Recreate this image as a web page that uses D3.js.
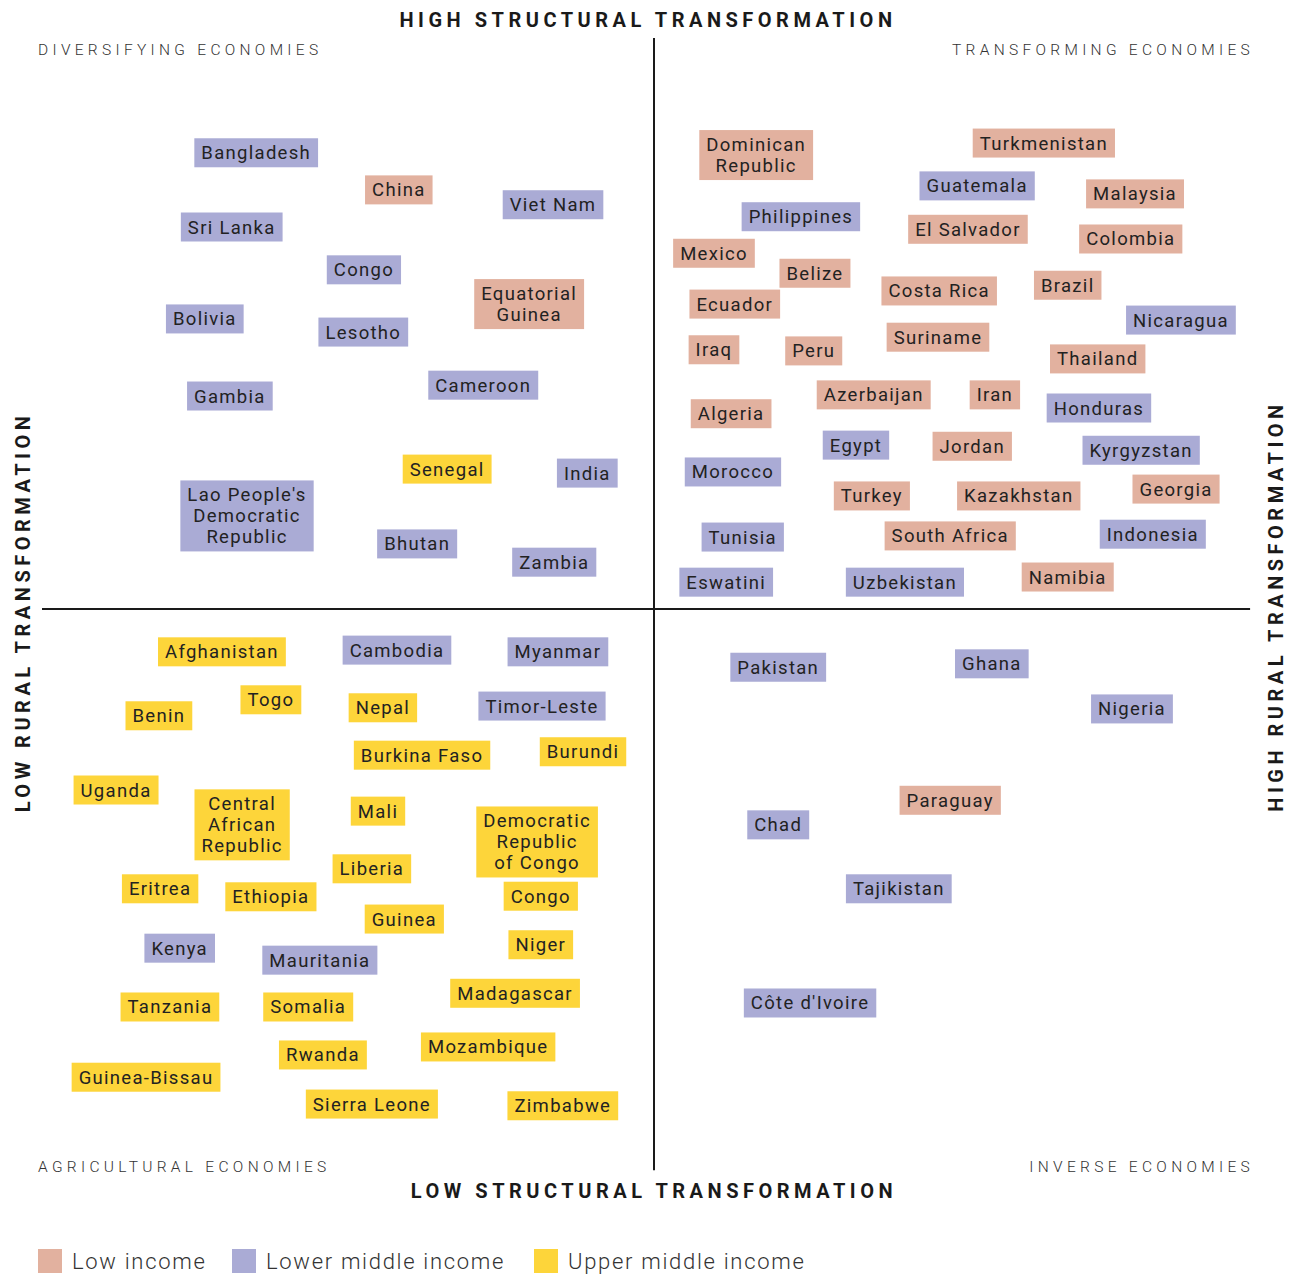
<!DOCTYPE html>
<html>
<head>
<meta charset="utf-8">
<script src="https://cdn.jsdelivr.net/npm/d3@7"></script>
<style>
  html, body { margin: 0; padding: 0; background: #fff; }
  svg { display: block; font-family: "Roboto", "Inter", sans-serif; }
</style>
</head>
<body>
<svg id="chart" width="1293" height="1275"></svg>
<script>
// ---- DATA ----
const countries = [
  "Bangladesh","China","Viet Nam","Sri Lanka","Congo","Equatorial\nGuinea","Bolivia","Lesotho","Cameroon","Gambia",
  "Senegal","India","Lao People's\nDemocratic\nRepublic","Bhutan","Zambia",
  "Dominican\nRepublic","Turkmenistan","Guatemala","Malaysia","Philippines","El Salvador","Colombia","Mexico","Belize","Ecuador",
  "Costa Rica","Brazil","Nicaragua","Iraq","Peru","Suriname","Thailand","Azerbaijan","Iran","Algeria",
  "Honduras","Egypt","Jordan","Kyrgyzstan","Morocco","Turkey","Kazakhstan","Georgia","Tunisia","South Africa",
  "Indonesia","Eswatini","Uzbekistan","Namibia",
  "Afghanistan","Cambodia","Myanmar","Togo","Benin","Nepal","Timor-Leste","Burkina Faso","Burundi","Uganda",
  "Central\nAfrican\nRepublic","Mali","Democratic\nRepublic\nof Congo","Liberia","Eritrea","Ethiopia","Congo","Guinea","Kenya","Niger",
  "Mauritania","Madagascar","Tanzania","Somalia","Mozambique","Rwanda","Guinea-Bissau","Sierra Leone","Zimbabwe",
  "Pakistan","Ghana","Nigeria","Paraguay","Chad","Tajikistan","Côte d'Ivoire"
];
// structural transformation (x, -100..100) and rural transformation (y, -100..100) positions
const structural = [
  -65.0,-41.7,-16.5,-69.0,-47.4,-20.4,-73.4,-47.5,-27.9,-69.3,
  -33.8,-10.9,-66.5,-38.7,-16.3,
  16.7,63.7,52.8,78.6,24.0,51.3,77.9,9.8,26.3,13.2,
  46.6,67.6,86.1,9.8,26.1,46.4,72.5,35.9,55.7,12.6,
  72.7,33.0,52.0,79.6,12.9,35.6,59.6,85.3,14.5,48.4,
  81.5,11.8,41.0,67.6,
  -70.6,-42.0,-15.7,-62.6,-80.9,-44.3,-18.3,-37.9,-11.6,-87.9,
  -67.3,-45.1,-19.1,-46.1,-80.7,-62.6,-18.5,-40.8,-77.5,-18.5,
  -54.6,-22.7,-79.1,-56.5,-27.1,-54.1,-83.0,-46.1,-14.9,
  20.3,55.2,78.1,48.4,20.3,40.0,25.5
];
const rural = [
  79.9,73.4,70.8,66.9,59.4,53.4,50.8,48.5,39.2,37.3,
  24.5,23.8,16.3,11.4,8.2,
  79.5,81.6,74.1,72.7,68.7,66.5,64.8,62.3,58.8,53.4,
  55.7,56.7,50.6,45.4,45.2,47.6,43.8,37.5,37.5,34.2,
  35.2,28.7,28.5,27.8,24.0,19.8,19.8,21.0,12.6,12.8,
  13.1,4.7,4.7,5.6,
  -7.5,-7.2,-7.5,-15.9,-18.7,-17.3,-17.0,-25.6,-25.0,-31.7,
  -37.8,-35.4,-40.8,-45.5,-49.0,-50.4,-50.3,-54.3,-59.4,-58.8,
  -61.5,-67.3,-69.7,-69.7,-76.7,-78.1,-82.0,-86.7,-87.0,
  -10.2,-9.6,-17.5,-33.5,-37.8,-49.0,-69.0
];
// income group: 0 = Low income, 1 = Lower middle income, 2 = Upper middle income (as labelled in the legend)
const incomeGroup = [
  1,0,1,1,1,0,1,1,1,1,
  2,1,1,1,1,
  0,0,1,0,1,0,0,0,0,0,
  0,0,1,0,0,0,0,0,0,0,
  1,1,0,1,1,0,0,0,1,0,
  1,1,1,0,
  2,1,1,2,2,2,1,2,2,2,
  2,2,2,2,2,2,2,2,1,2,
  1,2,2,2,2,2,2,2,2,
  1,1,1,0,1,1,1
];
const legendLabels = ["Low income", "Lower middle income", "Upper middle income"];
const groupColors = ["#e2b19f", "#aaabd5", "#fdd53a"];
const axisTitles = {
  top: "HIGH STRUCTURAL TRANSFORMATION",
  bottom: "LOW STRUCTURAL TRANSFORMATION",
  left: "LOW RURAL TRANSFORMATION",
  right: "HIGH RURAL TRANSFORMATION"
};
const quadrantLabels = ["DIVERSIFYING ECONOMIES", "TRANSFORMING ECONOMIES", "AGRICULTURAL ECONOMIES", "INVERSE ECONOMIES"];

// ---- CHART ----
const svg = d3.select("#chart");
const x = d3.scaleLinear().domain([-100, 100]).range([42, 1266]);
const y = d3.scaleLinear().domain([-100, 100]).range([1180, 38]);
const color = d3.scaleOrdinal().domain([0, 1, 2]).range(groupColors);

const ink = "#1a1a1a";

// quadrant lines
svg.append("line")
  .attr("x1", x(0)).attr("x2", x(0))
  .attr("y1", y(100)).attr("y2", y(-98.3))
  .attr("stroke", ink).attr("stroke-width", 2);
svg.append("line")
  .attr("x1", x(-100)).attr("x2", x(97.4))
  .attr("y1", y(0)).attr("y2", y(0))
  .attr("stroke", ink).attr("stroke-width", 2);

// axis titles
const titleStyle = sel => sel
  .attr("font-size", 20).attr("font-weight", 700)
  .attr("letter-spacing", "4.5px").attr("fill", ink)
  .attr("text-anchor", "middle");
svg.append("text").call(titleStyle).attr("x", 648).attr("y", 27).text(axisTitles.top);
svg.append("text").call(titleStyle).attr("x", 654).attr("y", 1198).text(axisTitles.bottom);
svg.append("text").call(titleStyle)
  .attr("transform", `translate(30,${612}) rotate(-90)`).text(axisTitles.left);
svg.append("text").call(titleStyle)
  .attr("transform", `translate(1283,${606}) rotate(-90)`).text(axisTitles.right);

// quadrant labels
const qStyle = sel => sel
  .attr("font-size", 15.5).attr("font-weight", 300)
  .attr("letter-spacing", "4.3px").attr("fill", "#333");
svg.append("text").call(qStyle).attr("x", 38).attr("y", 55).text(quadrantLabels[0]);
svg.append("text").call(qStyle).attr("x", 1254).attr("y", 55).attr("text-anchor", "end").text(quadrantLabels[1]);
svg.append("text").call(qStyle).attr("x", 38).attr("y", 1172).text(quadrantLabels[2]);
svg.append("text").call(qStyle).attr("x", 1254).attr("y", 1172).attr("text-anchor", "end").text(quadrantLabels[3]);

// country labels
const lineH = 21, padX = 7, baseH = 29;
const data = countries.map((name, i) => ({
  name, lines: name.split("\n"), sx: structural[i], ry: rural[i], g: incomeGroup[i]
}));
const labels = svg.append("g").selectAll("g.label").data(data).join("g")
  .attr("class", "label")
  .attr("transform", d => `translate(${x(d.sx)},${y(d.ry)})`);

labels.each(function(d) {
  const g = d3.select(this);
  const rect = g.append("rect").attr("fill", color(d.g));
  const n = d.lines.length;
  const t = g.append("text")
    .attr("text-anchor", "middle")
    .attr("font-size", 18.5)
    .attr("letter-spacing", "1.3px")
    .attr("fill", "#222");
  d.lines.forEach((ln, k) => {
    t.append("tspan")
      .attr("x", 0)
      .attr("y", (k - (n - 1) / 2) * lineH + 6.5)
      .text(ln);
  });
  const bb = t.node().getBBox();
  const w = bb.width + 2 * padX;
  const h = baseH + (n - 1) * lineH;
  rect.attr("x", -w / 2).attr("y", -h / 2).attr("width", w).attr("height", h);
});

// legend
const legend = svg.append("g").attr("transform", "translate(38,1249)");
const legendX = [0, 194, 496];
legendLabels.forEach((lab, i) => {
  const lg = legend.append("g").attr("transform", `translate(${legendX[i]},0)`);
  lg.append("rect").attr("width", 24).attr("height", 24).attr("fill", groupColors[i]);
  lg.append("text").attr("x", 34).attr("y", 20)
    .attr("font-size", 22).attr("font-weight", 300)
    .attr("letter-spacing", "1.7px").attr("fill", "#333").text(lab);
});
</script>
</body>
</html>
